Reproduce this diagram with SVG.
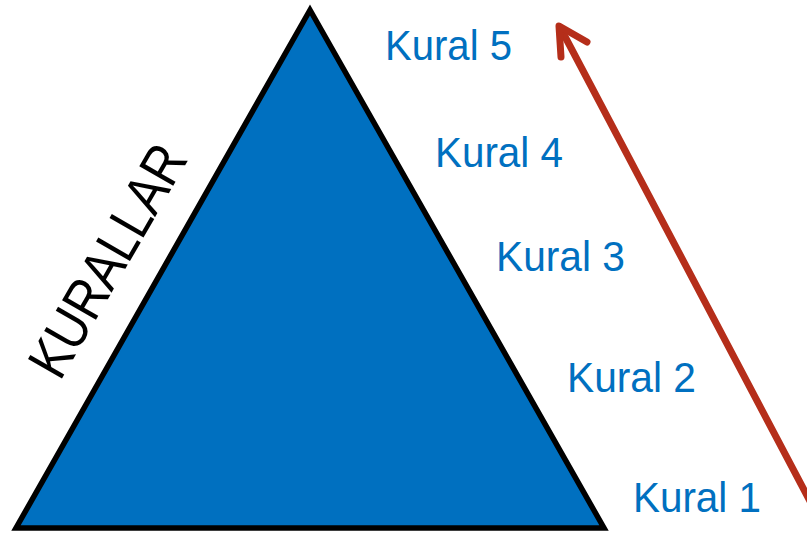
<svg xmlns="http://www.w3.org/2000/svg" width="807" height="534" viewBox="0 0 807 534">
<defs>
<style>
.lbl{font-family:"Liberation Sans",Arial,sans-serif;font-size:42px;fill:#0070C0}
.tri{fill:#0070C0;stroke:#000;stroke-width:5.5;stroke-linejoin:miter}
.arr{fill:none;stroke:#B52E1A;stroke-width:7;stroke-linecap:round;stroke-linejoin:round}
</style>
</defs>
<g id="pyramid">
<polygon class="tri" points="310,10 16,528 604,528"/>
</g>
<g id="kurallar">
<text x="0" y="0" transform="translate(60,382) rotate(-60)" font-family="'Liberation Sans',Arial,sans-serif" font-size="57" fill="#000" textLength="258" lengthAdjust="spacingAndGlyphs">KURALLAR</text>
</g>
<g id="kural5"><text class="lbl" x="385" y="60" textLength="127" lengthAdjust="spacingAndGlyphs">Kural 5</text></g>
<g id="kural4"><text class="lbl" x="435" y="167" textLength="128" lengthAdjust="spacingAndGlyphs">Kural 4</text></g>
<g id="kural3"><text class="lbl" x="496" y="271" textLength="129" lengthAdjust="spacingAndGlyphs">Kural 3</text></g>
<g id="kural2"><text class="lbl" x="567" y="392" textLength="129" lengthAdjust="spacingAndGlyphs">Kural 2</text></g>
<g id="kural1"><text class="lbl" x="633" y="512" textLength="128" lengthAdjust="spacingAndGlyphs">Kural 1</text></g>
<g id="connectors">
<path class="arr" d="M812,505 L561,29"/>
<path class="arr" d="M561,57 L559,26 L587,42"/>
</g>
</svg>
